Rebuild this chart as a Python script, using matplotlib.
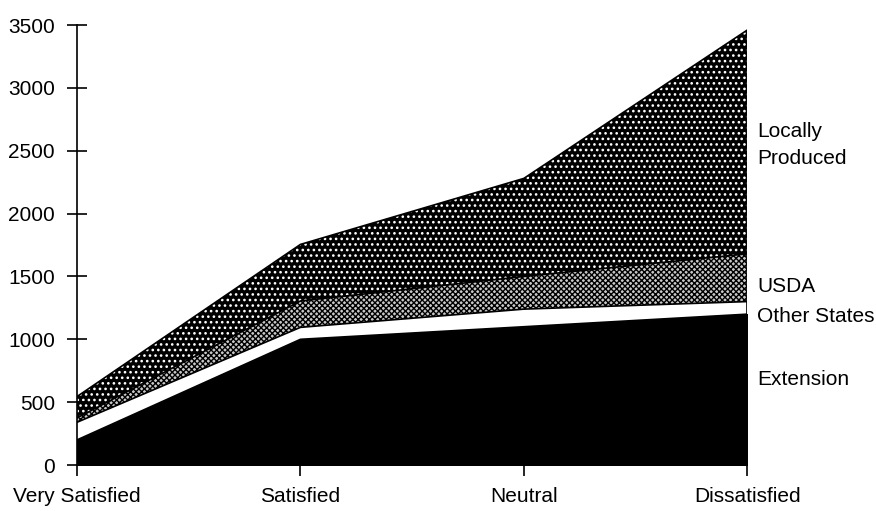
import matplotlib
matplotlib.use('Agg')
import matplotlib.pyplot as plt
import numpy as np

plt.rcParams['font.family'] = ['Liberation Sans Narrow', 'Liberation Sans', 'DejaVu Sans']

categories = ['Very Satisfied', 'Satisfied', 'Neutral', 'Dissatisfied']
extension = [200, 1000, 1100, 1200]
other_states = [140, 95, 140, 100]
usda = [35, 210, 260, 380]
locally = [170, 450, 780, 1780]

x = np.arange(len(categories))
layers = [extension, other_states, usda, locally]
tops = np.cumsum(np.array(layers), axis=0)

fig = plt.figure(figsize=(8.76, 5.11), dpi=100)
ax = fig.add_axes([0.088, 0.09, 0.765, 0.861])

base = np.zeros(len(x))
# extension: solid black
ax.fill_between(x, base, tops[0], facecolor='black', edgecolor='black', lw=1)
# other states: white
ax.fill_between(x, tops[0], tops[1], facecolor='white', lw=0)
# usda: fine crosshatch
plt.rcParams['hatch.linewidth'] = 1.0
ax.fill_between(x, tops[1], tops[2], facecolor='#c8c8c8', edgecolor='black',
                hatch='xxxxxx', lw=0)
# locally produced: white dots on black
plt.rcParams['hatch.linewidth'] = 1.1
ax.fill_between(x, tops[2], tops[3], facecolor='black', edgecolor='white',
                hatch='...', lw=0)

for t in tops:
    ax.plot(x, t, color='black', lw=1.2)
ax.vlines(x[-1], 0, tops[-1][-1], color='black', lw=1.2)

ax.set_xlim(0, 3)
ax.set_ylim(0, 3500)
ax.set_yticks(range(0, 3501, 500))
ax.set_xticks(x)
ax.set_xticklabels(categories)
ax.spines['top'].set_visible(False)
ax.spines['right'].set_visible(False)
ax.tick_params(axis='y', direction='inout', length=14, width=1.2, labelsize=15, pad=9)
ax.tick_params(axis='x', direction='out', length=8, width=1.2, labelsize=15, pad=8)
for s in ['left', 'bottom']:
    ax.spines[s].set_linewidth(1.2)

labels = ['Locally\nProduced', 'USDA', 'Other States', 'Extension']
label_y = [2545, 1420, 1185, 680]
for lab, yy in zip(labels, label_y):
    ax.text(3.045, yy, lab, fontsize=15, va='center', ha='left', clip_on=False,
            linespacing=1.5)

fig.savefig('out.png', dpi=100)
